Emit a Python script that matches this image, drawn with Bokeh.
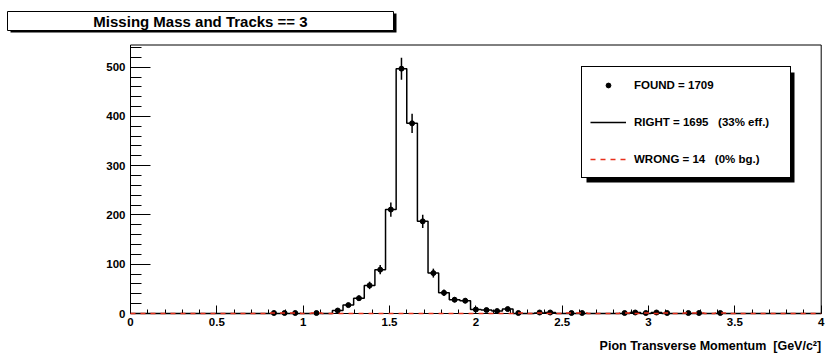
import numpy as np
from bokeh.plotting import figure
from bokeh.models import (SingleIntervalTicker, CustomJSTickFormatter, Label,
                          BoxAnnotation, Legend, LegendItem)
from bokeh.embed import file_html
from bokeh.resources import INLINE

# ---------------- data ----------------
X_MIN, X_MAX, N_BINS = 0.0, 4.0, 65
Y_MAX = 545
found_counts = [0, 0, 0, 0, 0, 0, 0, 0, 0, 0,
                0, 0, 0, 1, 1, 1, 0, 1, 0, 6,
                17, 31, 57, 89, 211, 497, 386, 187, 82, 42,
                28, 26, 8, 7, 5, 9, 1, 0, 2, 2,
                0, 1, 1, 0, 0, 0, 1, 2, 1, 2,
                1, 0, 1, 1, 0, 1, 0, 0, 0, 0,
                0, 0, 0, 0, 0]
wrong_counts = [0, 0, 0, 0, 0, 0, 0, 0, 0, 0,
                0, 0, 0, 1, 1, 1, 0, 1, 0, 0,
                0, 0, 0, 0, 0, 0, 0, 0, 0, 0,
                0, 0, 0, 0, 0, 0, 1, 0, 1, 0,
                0, 1, 1, 0, 0, 0, 1, 0, 1, 0,
                1, 0, 1, 1, 0, 1, 0, 0, 0, 0,
                0, 0, 0, 0, 0]
legend_labels = ["FOUND = 1709",
                 "RIGHT = 1695\u00a0\u00a0 (33% eff.)",
                 "WRONG = 14\u00a0\u00a0 (0% bg.)"]
title_text = "Missing Mass and Tracks == 3"
x_title = "Pion Transverse Momentum\u00a0 [GeV/c\u00b2]"

FONT = "Liberation Sans"
RED = "#e8301c"

# ---------------- geometry (pixels on the canvas) ----------------
W, H = 826, 354
FL, FR, FT, FB = 130.0, 820.7, 44.5, 313.0      # visible frame box
px_x = (FR - FL) / (X_MAX - X_MIN)
px_y = (FB - FT) / Y_MAX
x_lo = X_MIN - FL / px_x
x_hi = X_MAX + (W - FR) / px_x
y_lo = -(H - FB) / px_y
y_hi = Y_MAX + FT / px_y

edges = np.linspace(X_MIN, X_MAX, N_BINS + 1)
centers = 0.5 * (edges[:-1] + edges[1:])
found = np.array(found_counts, dtype=float)
wrong = np.array(wrong_counts, dtype=float)
right = found - wrong
nz = found > 0
err = np.sqrt(found[nz])

p = figure(width=W, height=H, x_range=(x_lo, x_hi), y_range=(y_lo, y_hi),
           output_backend="svg", toolbar_location=None, title=None,
           min_border=0, min_border_left=0, min_border_right=0,
           min_border_top=0, min_border_bottom=0)
p.background_fill_color = "white"
p.border_fill_color = "white"
p.outline_line_color = None
p.grid.visible = False

# axes, fixed at the data origin
p.xaxis.fixed_location = 0
p.yaxis.fixed_location = 0
p.xaxis.bounds = (X_MIN, X_MAX)
p.yaxis.bounds = (0, Y_MAX)
p.xaxis.ticker = SingleIntervalTicker(interval=0.5, num_minor_ticks=5)
p.yaxis.ticker = SingleIntervalTicker(interval=100, num_minor_ticks=5)
p.xaxis.formatter = CustomJSTickFormatter(code="return String(tick)")
for ax in (p.xaxis[0], p.yaxis[0]):
    ax.axis_line_color = "black"
    ax.major_tick_line_color = "black"
    ax.minor_tick_line_color = "black"
    ax.major_tick_out = 0
    ax.minor_tick_out = 0
    ax.major_label_text_font = FONT
    ax.major_label_text_font_style = "bold"
    ax.major_label_text_font_size = "11.5px"
    ax.major_label_text_color = "black"
p.xaxis.major_tick_in = 8
p.xaxis.minor_tick_in = 4
p.xaxis.major_label_standoff = 4
p.yaxis.major_tick_in = 20
p.yaxis.minor_tick_in = 11
p.yaxis.major_label_standoff = 5

# histogram marks
right_r = p.step(edges, np.append(right, right[-1]), mode="after",
                 line_color="black", line_width=1.5)
p.segment(x0=centers[nz], y0=found[nz] - err, x1=centers[nz], y1=found[nz] + err,
          line_color="black", line_width=1.5)
found_r = p.scatter(centers[nz], found[nz], marker="circle", size=5,
                    fill_color="black", line_color="black")
wrong_r = p.step(edges, np.append(wrong, wrong[-1]), mode="after",
                 line_color=RED, line_width=1.5, line_dash="5 5", level="overlay")

# visible frame box
p.add_layout(BoxAnnotation(left=X_MIN, right=X_MAX, bottom=0, top=Y_MAX,
                           fill_alpha=0, line_color="black", line_alpha=1,
                           line_width=1))

def sbox(l, r, t, b, **kw):
    """box given in canvas pixels (top-left origin)"""
    return BoxAnnotation(left=l, right=r, top=H - t, bottom=H - b,
                         left_units="screen", right_units="screen",
                         top_units="screen", bottom_units="screen", **kw)

# title pave with shadow
p.add_layout(sbox(10, 396, 13, 32, fill_color="black", fill_alpha=1, line_color=None))
p.add_layout(sbox(7, 393, 11, 30, fill_color="white", fill_alpha=1,
                  line_color="black", line_alpha=1, line_width=1))
p.add_layout(Label(x=200, y=H - 20.5, x_units="screen", y_units="screen",
                   text=title_text, text_align="center", text_baseline="middle",
                   text_font=FONT, text_font_style="bold", text_font_size="15px",
                   text_color="black"))

# legend with shadow
p.add_layout(sbox(586, 794, 72, 182, fill_color="black", fill_alpha=1, line_color=None))
legend = Legend(items=[LegendItem(label=legend_labels[0], renderers=[found_r]),
                       LegendItem(label=legend_labels[1], renderers=[right_r]),
                       LegendItem(label=legend_labels[2], renderers=[wrong_r])],
                location=(581, H - 177.5), orientation="vertical", padding=8, spacing=17,
                label_standoff=8, glyph_width=36, glyph_height=12, label_height=20,
                label_width=148, margin=0,
                label_text_font=FONT, label_text_font_style="bold",
                label_text_font_size="11.5px", label_text_color="black",
                border_line_color="black", border_line_width=1, border_line_alpha=1,
                background_fill_color="white", background_fill_alpha=1)
p.add_layout(legend)

# x-axis title, right aligned as in ROOT
p.add_layout(Label(x=FR, y=H - 345, x_units="screen", y_units="screen",
                   text=x_title, text_align="right", text_baseline="alphabetic",
                   text_font=FONT, text_font_style="bold", text_font_size="12.5px",
                   text_color="black"))

open("out.html", "w").write(file_html(p, INLINE))
